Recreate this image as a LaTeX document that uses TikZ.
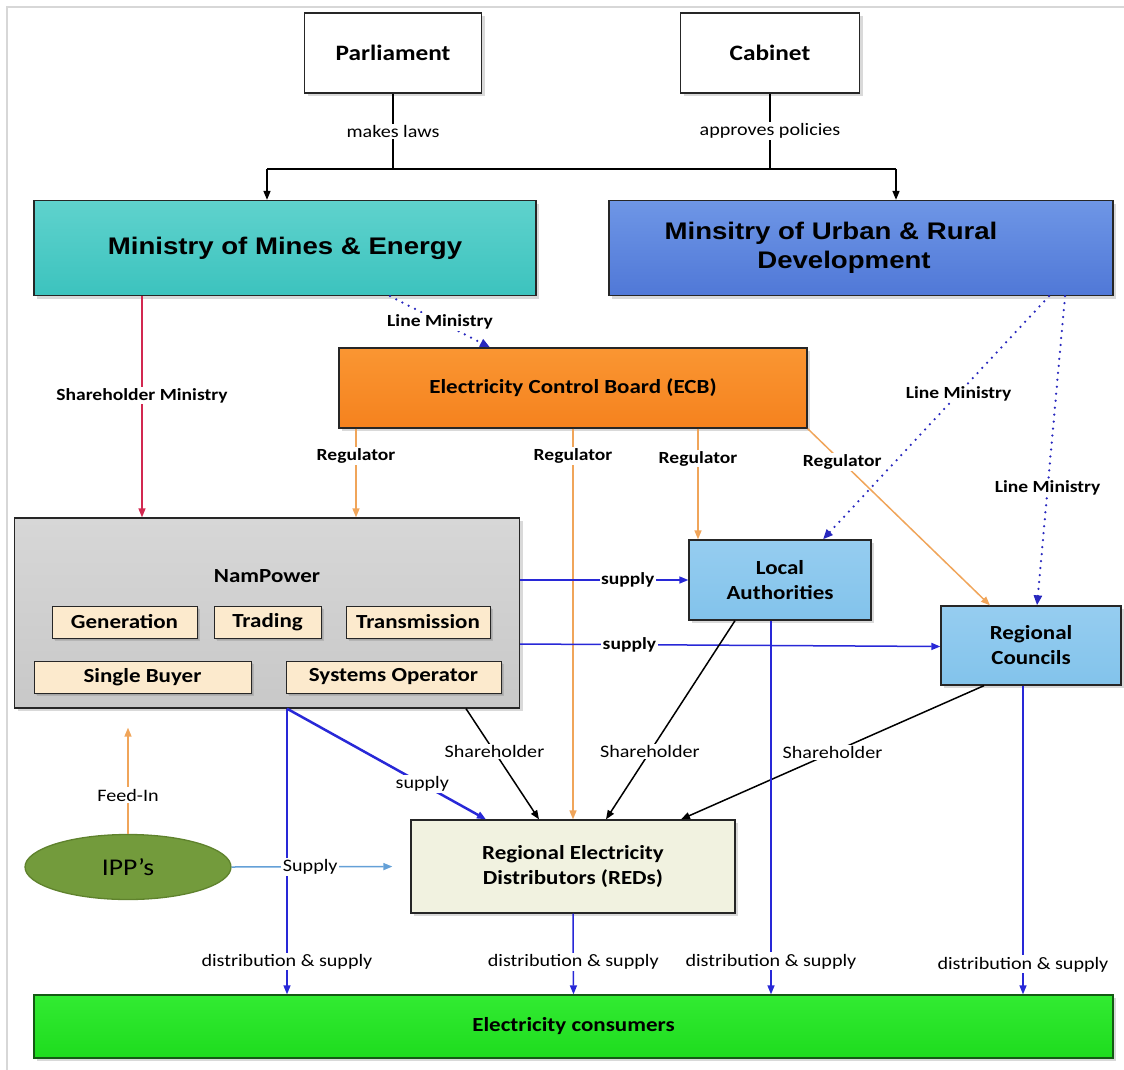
\documentclass[tikz,border=0pt]{standalone}
\usepackage{fontspec}
\setmainfont{Carlito}[FakeStretch=1.15]
\newfontfamily\arialbf{Liberation Sans}[FakeStretch=1.15]
\usetikzlibrary{arrows.meta, shadows, shapes.geometric}

\definecolor{tealtop}{RGB}{95,210,205}
\definecolor{tealmid}{RGB}{140,228,224}
\definecolor{tealbot}{RGB}{60,195,190}
\definecolor{urbtop}{RGB}{110,150,230}
\definecolor{urbmid}{RGB}{165,195,242}
\definecolor{urbbot}{RGB}{80,120,215}
\definecolor{ecbtop}{RGB}{250,150,50}
\definecolor{ecbmid}{RGB}{253,185,110}
\definecolor{ecbbot}{RGB}{245,130,30}
\definecolor{namtop}{RGB}{215,215,215}
\definecolor{nammid}{RGB}{245,245,245}
\definecolor{nambot}{RGB}{200,200,200}
\definecolor{subtan}{RGB}{252,234,205}
\definecolor{latop}{RGB}{150,205,240}
\definecolor{lamid}{RGB}{198,232,250}
\definecolor{labot}{RGB}{130,195,235}
\definecolor{redivory}{RGB}{241,242,224}
\definecolor{ippgreen}{RGB}{115,155,60}
\definecolor{ippedge}{RGB}{95,130,45}
\definecolor{constop}{RGB}{50,235,50}
\definecolor{consmid}{RGB}{115,250,115}
\definecolor{consbot}{RGB}{30,220,30}
\definecolor{consedge}{RGB}{20,90,20}
\definecolor{linered}{RGB}{210,40,80}
\definecolor{dotblue}{RGB}{40,40,190}
\definecolor{regorange}{RGB}{240,165,90}
\definecolor{supblue}{RGB}{40,40,215}
\definecolor{ippblue}{RGB}{100,160,215}
\definecolor{framegray}{RGB}{215,215,215}

\tikzset{
  box/.style={
    draw=black!85,
    line width=1.3pt,
    rectangle,
    align=center,
    inner sep=2pt,
    drop shadow={opacity=0.3, shadow xshift=3pt, shadow yshift=-3pt},
    font=\bfseries\fontsize{20}{25}\selectfont
  },
  topbox/.style={
    box,
    fill=white,
    font=\bfseries\fontsize{22}{26}\selectfont
  },
  minbox/.style={
    box,
    font=\arialbf\bfseries\fontsize{24}{29}\selectfont
  },
  subbox/.style={
    box,
    fill=subtan,
    line width=1pt,
    minimum height=32pt,
    drop shadow={opacity=0.25, shadow xshift=2pt, shadow yshift=-2pt}
  },
  lbl/.style={
    fill=white,
    text=black,
    inner sep=1.5pt,
    font=\fontsize{17.5}{21}\selectfont
  },
  blbl/.style={
    lbl,
    font=\bfseries\fontsize{17}{20}\selectfont
  },
  plainline/.style={
    line width=1.5pt,
    black
  },
  blkarr/.style={
    -{Triangle[length=9pt,width=7pt]},
    line width=1.5pt,
    black
  },
  redarr/.style={
    blkarr,
    linered
  },
  regarr/.style={
    blkarr,
    regorange
  },
  suparr/.style={
    blkarr,
    supblue
  },
  ipparr/.style={
    blkarr,
    ippblue
  },
  dotarr/.style={
    -{Triangle[length=10pt,width=8pt]},
    dotblue,
    line width=2.5pt,
    line cap=round,
    dash pattern=on 0pt off 7pt
  }
}

\begin{document}
\begin{tikzpicture}[x=1pt, y=-1pt]
  \useasboundingbox (0,0) rectangle (1124,1070);
  \draw[framegray, line width=1.5pt] (7,1070) -- (7,7) -- (1124,7);

  \node[topbox, minimum width=177pt, minimum height=80pt] (parl) at (393,53) {Parliament};
  \node[topbox, minimum width=179pt, minimum height=80pt] (cab) at (770,53) {Cabinet};

  \node[minbox, top color=tealtop, middle color=tealmid, bottom color=tealbot,
        minimum width=502pt, minimum height=95pt] (mme) at (285,248) {Ministry of Mines \& Energy};
  \node[minbox, top color=urbtop, middle color=urbmid, bottom color=urbbot,
        minimum width=504pt, minimum height=95pt] (murd) at (861,248)
        {\hspace*{-60pt}Minsitry of Urban \& Rural\\\hspace*{-34pt}Development};

  \node[box, top color=ecbtop, middle color=ecbmid, bottom color=ecbbot,
        minimum width=468pt, minimum height=80pt] (ecb) at (573,388) {Electricity Control Board (ECB)};

  \node[box, top color=namtop, middle color=nammid, bottom color=nambot,
        minimum width=505pt, minimum height=190pt] (nam) at (267,613) {};
  \node[font=\bfseries\fontsize{20}{25}\selectfont] (namlbl) at (267,576) {NamPower};
  \node[subbox, minimum width=145pt] (gen) at (124.5,622) {Generation};
  \node[subbox, minimum width=107pt] (trad) at (267.5,622) {Trading};
  \node[subbox, minimum width=144pt] (trans) at (418,622) {Transmission};
  \node[subbox, minimum width=217pt] (sbuy) at (142.5,677) {Single Buyer};
  \node[subbox, minimum width=215pt] (sysop) at (393.5,677) {Systems Operator};

  \node[box, top color=latop, middle color=lamid, bottom color=labot,
        minimum width=182pt, minimum height=80pt] (loc) at (780,580) {Local\\Authorities};
  \node[box, top color=latop, middle color=lamid, bottom color=labot,
        minimum width=180pt, minimum height=79pt] (regc) at (1031,645.5) {Regional\\Councils};

  \node[box, fill=redivory, minimum width=324pt, minimum height=93pt] (red) at (573,866.5) {Regional Electricity\\Distributors (REDs)};
  \node[ellipse, draw=ippedge, line width=1.3pt, fill=ippgreen, minimum width=206pt, minimum height=65pt,
        font=\fontsize{24}{28}\selectfont] (ipp) at (128,867) {IPP’s};

  \node[box, draw=consedge, top color=constop, middle color=consmid, bottom color=consbot,
        minimum width=1079pt, minimum height=63pt] (cons) at (573.5,1026.5) {Electricity consumers};

  \coordinate (barl) at (267,169);
  \coordinate (barr) at (896,169);
  \draw[plainline] (parl.south) -- node[lbl]{makes laws} (parl.south |- barl);
  \draw[plainline] (cab.south) -- node[lbl]{approves policies} (cab.south |- barl);
  \draw[plainline] (barl) -- (barr);
  \draw[blkarr] (barl) -- (barl |- mme.north);
  \draw[blkarr] (barr) -- (barr |- murd.north);

  \draw[redarr] ([xshift=-143pt]mme.south) -- node[blbl, pos=0.45]{Shareholder Ministry} ([xshift=-125pt]nam.north);
  \draw[dotarr] ([xshift=105pt]mme.south) -- node[blbl]{Line Ministry} ([xshift=-83pt]ecb.north);

  \draw[regarr] ([xshift=-217pt]ecb.south) -- node[blbl, pos=0.31]{Regulator} ([xshift=89pt]nam.north);
  \draw[regarr] (ecb.south) -- node[blbl, pos=0.07]{Regulator} (red.north);
  \draw[regarr] ([xshift=125pt]ecb.south) -- node[blbl, pos=0.27]{Regulator} ([xshift=-82pt]loc.north);
  \draw[regarr] (ecb.south east) -- node[blbl, pos=0.19]{Regulator} ([xshift=-41pt]regc.north);

  \draw[dotarr] ([xshift=188pt]murd.south) -- node[blbl, pos=0.4]{Line Ministry} ([xshift=43pt]loc.north);
  \draw[dotarr] ([xshift=204pt]murd.south) -- node[blbl, pos=0.62]{Line Ministry} ([xshift=6pt]regc.north);

  \draw[suparr] ([yshift=33pt]nam.east) -- node[blbl, pos=0.64]{supply} (loc.west);
  \draw[suparr] ([yshift=-31pt]nam.east) -- node[blbl, pos=0.26]{supply} ([yshift=-1pt]regc.west);

  \draw[blkarr] ([xshift=199pt]nam.south) -- node[lbl, pos=0.39]{Shareholder} ([xshift=-34pt]red.north);
  \draw[blkarr] ([xshift=-45pt]loc.south) -- node[lbl, pos=0.66]{Shareholder} ([xshift=33pt]red.north);
  \draw[blkarr] ([xshift=-47pt]regc.south) -- node[lbl, pos=0.5]{Shareholder} ([xshift=108pt]red.north);

  \draw[suparr, line width=2.5pt] ([xshift=20pt]nam.south) -- node[lbl, pos=0.68]{supply} ([xshift=-87pt]red.north);

  \draw[suparr] ([xshift=20pt]nam.south) -- node[lbl, pos=0.885]{distribution \& supply} ([xshift=-286.5pt]cons.north);
  \draw[suparr] (red.south) -- node[lbl, pos=0.6]{distribution \& supply} (cons.north);
  \draw[suparr] ([xshift=-9pt]loc.south) -- node[lbl, pos=0.912]{distribution \& supply} ([xshift=197.5pt]cons.north);
  \draw[suparr] ([xshift=-8pt]regc.south) -- node[lbl, pos=0.903]{distribution \& supply} ([xshift=449.5pt]cons.north);

  \draw[regarr, shorten >=19pt] (ipp.north) -- node[lbl, pos=0.31]{Feed-In} ([xshift=-139pt]nam.south);
  \draw[ipparr, shorten >=18pt] (ipp.east) -- node[lbl, pos=0.44]{Supply} (red.west);
\end{tikzpicture}
\end{document}
